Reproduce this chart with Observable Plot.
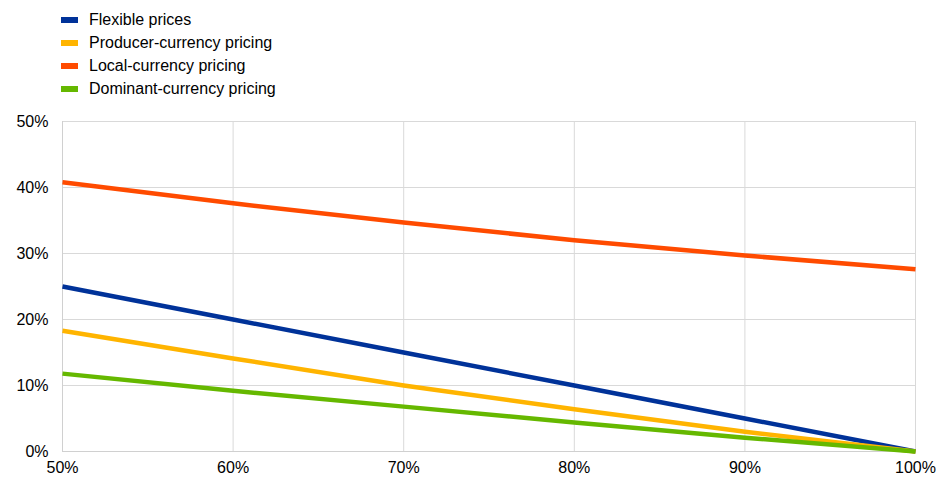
<!DOCTYPE html>
<html>
<head>
<meta charset="utf-8">
<script src="https://cdn.jsdelivr.net/npm/d3@7"></script>
<script src="https://cdn.jsdelivr.net/npm/@observablehq/plot@0.6"></script>
<style>
  html, body { margin: 0; padding: 0; background: #fff; }
  body { width: 936px; height: 477px; overflow: hidden; font-family: "Liberation Sans", Arial, sans-serif; color: #000; }
  #legend { position: relative; height: 110px; }
  .item { position: absolute; left: 61px; height: 23px; display: flex; align-items: center; font-size: 16px; }
  .sw { width: 17px; height: 6px; margin-right: 11px; }
</style>
</head>
<body>
<div id="legend"></div>
<div id="chart"></div>
<script>
const shares = [50, 60, 70, 80, 90, 100];
const seriesNames = ["Flexible prices", "Producer-currency pricing", "Local-currency pricing", "Dominant-currency pricing"];
const flexible = [25, 20, 15, 10, 5, 0];
const producer = [18.3, 14.1, 10.0, 6.4, 3.0, 0];
const local = [40.8, 37.6, 34.7, 32.0, 29.7, 27.6];
const dominant = [11.8, 9.2, 6.8, 4.4, 2.1, 0];
const colors = ["#003299", "#FFB400", "#FF4B00", "#65B800"];
const xTicks = [50, 60, 70, 80, 90, 100];
const yTicks = [0, 10, 20, 30, 40, 50];

const allSeries = [flexible, producer, local, dominant];
const data = [];
allSeries.forEach((vals, i) => vals.forEach((v, j) => data.push({series: seriesNames[i], x: shares[j], y: v})));

const legend = document.getElementById("legend");
seriesNames.forEach((name, i) => {
  const d = document.createElement("div");
  d.className = "item";
  d.style.top = (8.5 + i * 23) + "px";
  d.innerHTML = `<span class="sw" style="background:${colors[i]}"></span><span>${name}</span>`;
  legend.appendChild(d);
});

const chart = Plot.plot({
  width: 936,
  height: 367,
  marginTop: 11,
  marginBottom: 26,
  marginLeft: 62,
  marginRight: 21,
  style: {fontFamily: "Liberation Sans, Arial, sans-serif", fontSize: "16px", color: "#000", background: "#fff"},
  x: {domain: [50, 100], ticks: xTicks, tickFormat: d => d + "%", tickSize: 0, tickPadding: 10, label: null},
  y: {domain: [0, 50], ticks: yTicks, tickFormat: d => d + "%", tickSize: 0, tickPadding: 14, label: null},
  color: {domain: seriesNames, range: colors},
  marks: [
    Plot.gridX(xTicks, {stroke: "#d9d9d9", strokeOpacity: 1, strokeWidth: 1}),
    Plot.gridY(yTicks, {stroke: "#d9d9d9", strokeOpacity: 1, strokeWidth: 1}),
    Plot.ruleX([50], {stroke: "#d0d0d0"}),
    Plot.ruleY([0], {stroke: "#d0d0d0"}),
    Plot.lineY(data, {x: "x", y: "y", z: "series", stroke: "series", strokeWidth: 4.5, strokeLinecap: "butt"})
  ]
});
document.getElementById("chart").appendChild(chart);
</script>
</body>
</html>
